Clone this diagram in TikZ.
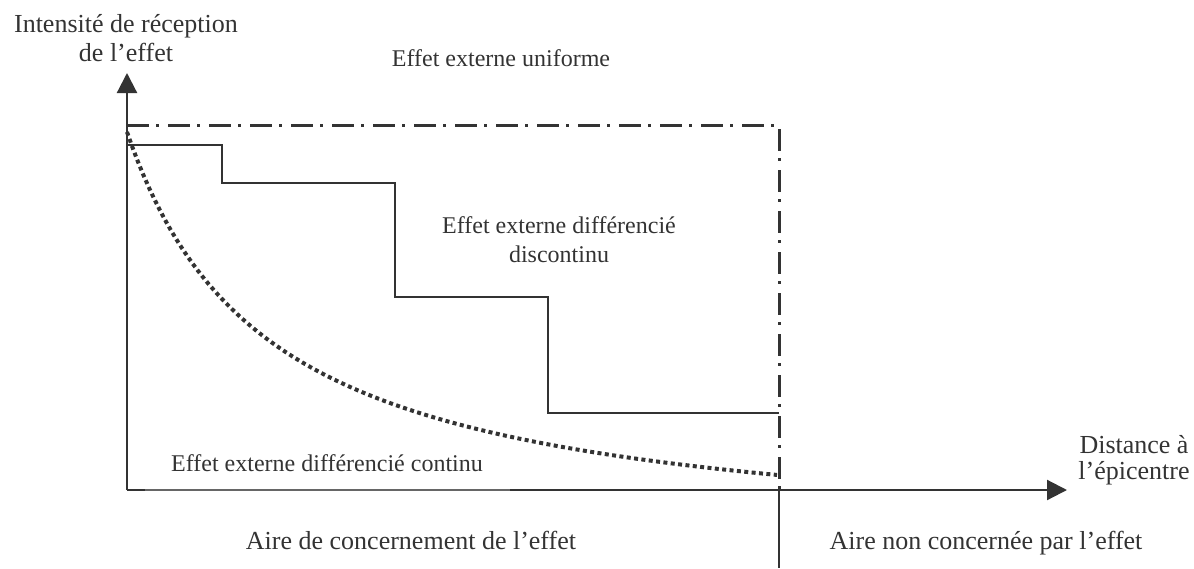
\documentclass[tikz,border=0pt]{standalone}
\usepackage{fontspec}
\setmainfont{Liberation Serif}
\usetikzlibrary{arrows.meta}
\definecolor{ink}{RGB}{51,51,51}
\begin{document}
\begin{tikzpicture}[x=1pt,y=-1pt,
  axisline/.style={draw=ink,line width=2.2pt},
  axisarrow/.style={axisline,-{Triangle[width=20pt,length=20pt]}},
  thinaxis/.style={draw=ink!75,line width=1.3pt},
  uniform/.style={draw=ink,line width=3pt,dash pattern=on 22pt off 7pt on 3pt off 9pt},
  stepline/.style={draw=ink,line width=2.2pt},
  contline/.style={draw=ink,line width=4pt,dash pattern=on 4pt off 3.4pt},
  bigtxt/.style={font=\fontsize{26}{29}\selectfont,text=ink,inner sep=0pt,anchor=base},
  smalltxt/.style={font=\fontsize{24}{27}\selectfont,text=ink,inner sep=0pt,anchor=base}]
\useasboundingbox (0,0) rectangle (1194,568);
% key coordinates
\coordinate (O) at (127,490);
\coordinate (Ytop) at (127,73);
\coordinate (Xend) at (1067,490);
\coordinate (G1) at (145,490);
\coordinate (G2) at (510,490);
\coordinate (U0) at (127,125);
\coordinate (U1) at (779,125);
\coordinate (U2) at (779,490);
\coordinate (U3) at (779,568);
% axes
\draw[axisarrow] (O) -- (Ytop);
\draw[axisline] (O) -- (G1);
\draw[thinaxis] (G1) -- (G2);
\draw[axisarrow] (G2) -- (Xend);
% uniform effect
\draw[uniform] (U0) -- (U1) -- (U2);
\draw[axisline] (U2) -- (U3);
% discontinuous effect
\draw[stepline] (127,145) -- (222,145) -- (222,183) -- (395,183) -- (395,297)
  -- (548,297) -- (548,413) -- (779,413);
% continuous effect
\draw[contline] plot[domain=0:650,samples=120] ({127+\x},{550.4-598.37/((\x+143)/100)});
% labels
\node[bigtxt] (ylab1) at (126,32) {Intensité de réception};
\node[bigtxt] (ylab2) at (126,61) {de l’effet};
\node[smalltxt] (lu) at (501,66) {Effet externe uniforme};
\node[smalltxt] (ld1) at (559,233) {Effet externe différencié};
\node[smalltxt] (ld2) at (559,262) {discontinu};
\node[smalltxt] (lc) at (327,471) {Effet externe différencié continu};
\node[bigtxt] (xlab1) at (1134,453) {Distance à};
\node[bigtxt] (xlab2) at (1134,479) {l’épicentre};
\node[bigtxt] (a1) at (411,549) {Aire de concernement de l’effet};
\node[bigtxt] (a2) at (986,549) {Aire non concernée par l’effet};
\end{tikzpicture}
\end{document}
